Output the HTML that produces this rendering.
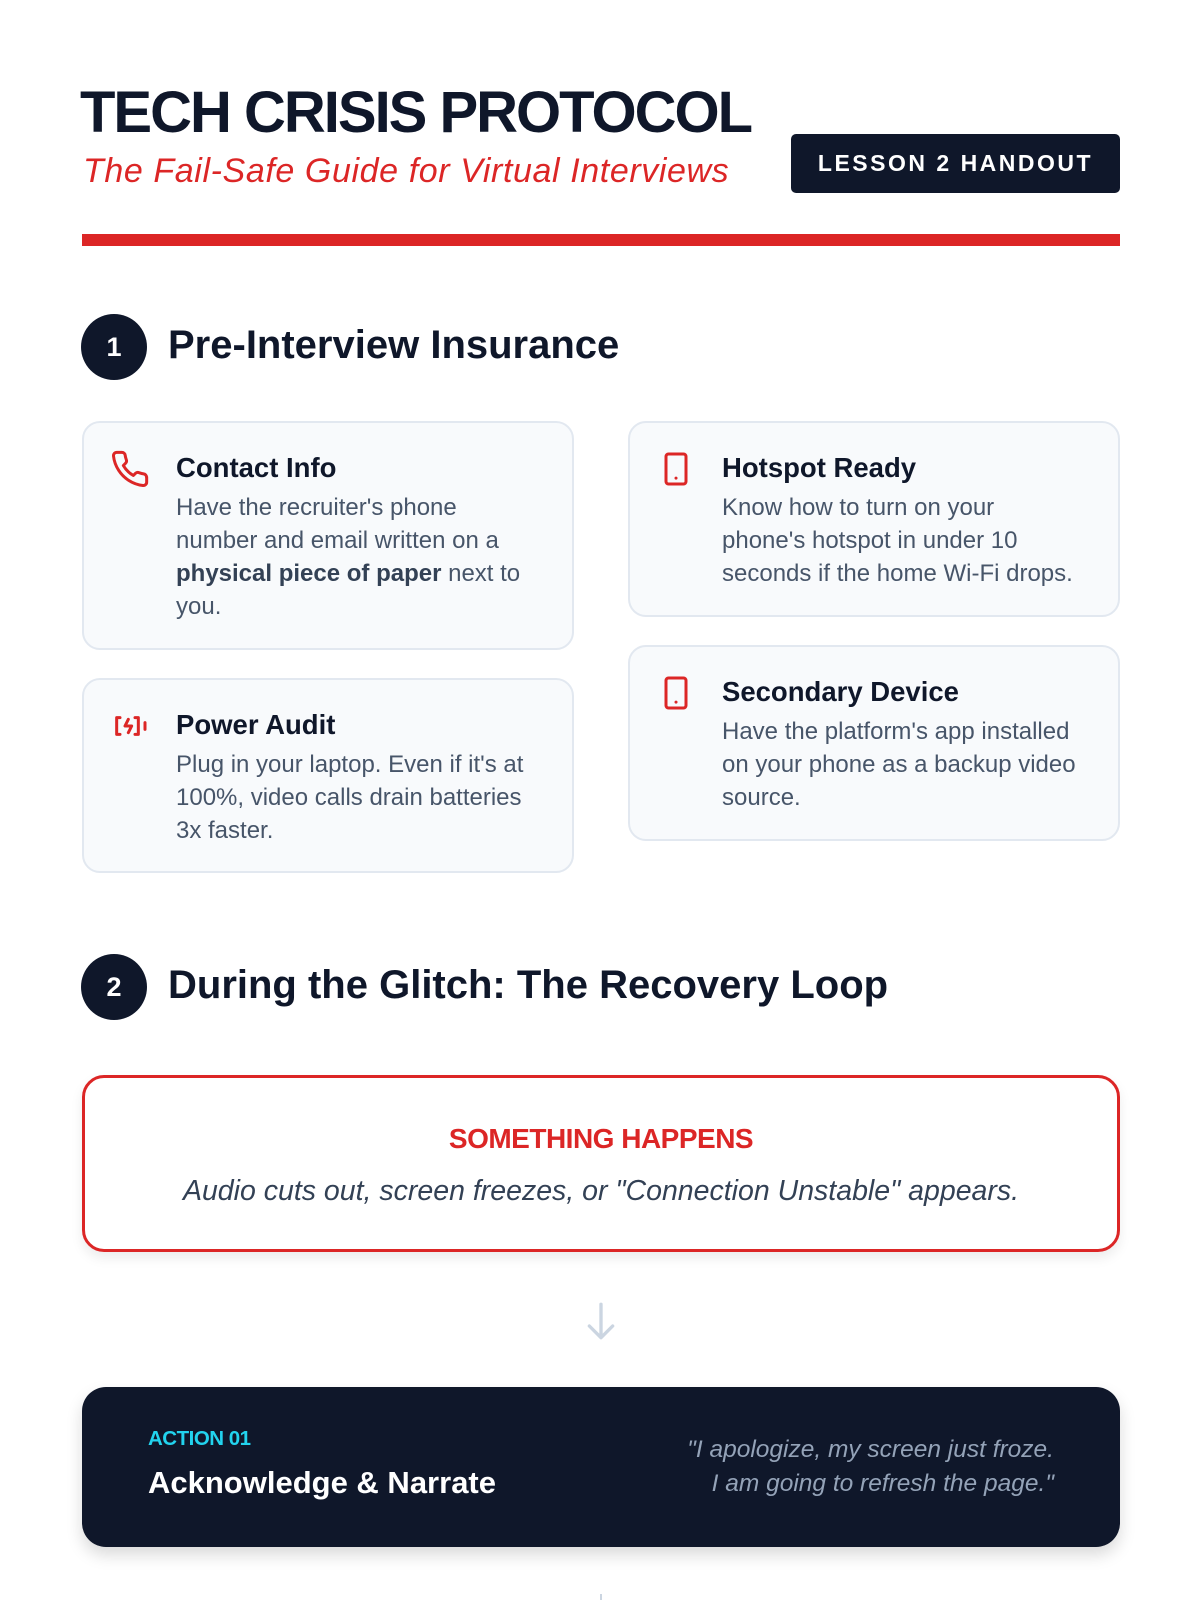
<!DOCTYPE html>
<html style="width:1200px;height:1600px;overflow:hidden"><head><meta charset="utf-8"><style>
*{margin:0;padding:0;box-sizing:border-box}
body{width:1200px;height:1600px;background:#fff;font-family:"Liberation Sans",sans-serif;position:relative;overflow:hidden;color:#0f172a}
.a{position:absolute}
h1{position:absolute;left:80px;top:80px;font-size:58px;font-weight:bold;letter-spacing:-2px;color:#0f172a;line-height:66px;white-space:nowrap}
.sub{left:83px;top:152px;font-size:34px;font-style:italic;color:#dc2626;white-space:nowrap;letter-spacing:0.6px}
.badge{left:791px;top:134px;width:329px;height:59px;background:#0f172a;border-radius:5px;color:#fff;font-weight:bold;font-size:23px;letter-spacing:2.5px;text-align:center;line-height:59px}
.bar{left:82px;top:234px;width:1038px;height:12px;background:#dc2626}
.num{width:66px;height:66px;border-radius:50%;background:#0f172a;color:#fff;font-weight:bold;font-size:27px;text-align:center;line-height:66px;left:81px}
.h2{left:168px;font-size:40px;font-weight:bold;color:#0f172a;white-space:nowrap}
.card{background:#f8fafc;border:2px solid #e2e8f0;border-radius:18px;width:492px}
.card .t{position:absolute;left:92px;top:29px;font-size:27.5px;font-weight:bold;color:#0f172a;white-space:nowrap}
.card .b{position:absolute;left:92px;top:68px;font-size:24px;line-height:33px;color:#475569;white-space:nowrap}
.card svg{position:absolute;left:26px;top:26px}
.red{left:82px;top:1075px;width:1038px;height:177px;border:3px solid #dc2626;border-radius:22px;box-shadow:0 6px 12px rgba(0,0,0,.08);text-align:center}
.dark{left:82px;top:1387px;width:1038px;height:160px;background:#0f172a;border-radius:24px;box-shadow:0 8px 16px rgba(0,0,0,.15)}
</style></head><body>
<h1>TECH CRISIS PROTOCOL</h1>
<div class="a sub">The Fail-Safe Guide for Virtual Interviews</div>
<div class="a badge">LESSON 2 HANDOUT</div>
<div class="a bar"></div>

<div class="a num" style="top:314px">1</div>
<div class="a h2" style="top:323px">Pre-Interview Insurance</div>

<div class="a card" style="left:82px;top:421px;height:229px">
<svg width="40" height="40" viewBox="0 0 24 24" fill="none" stroke="#dc2626" stroke-width="1.8" stroke-linecap="round" stroke-linejoin="round"><path d="M22 16.9v3a2 2 0 0 1-2.2 2 19.8 19.8 0 0 1-8.6-3.1 19.5 19.5 0 0 1-6-6A19.8 19.8 0 0 1 2.1 4.2 2 2 0 0 1 4.1 2h3a2 2 0 0 1 2 1.7c.1 1 .4 1.9.7 2.8a2 2 0 0 1-.5 2.1L8 9.9a16 16 0 0 0 6 6l1.3-1.3a2 2 0 0 1 2.1-.4c.9.3 1.8.6 2.8.7a2 2 0 0 1 1.7 2z"/></svg>
<div class="t">Contact Info</div>
<div class="b">Have the recruiter's phone<br>number and email written on a<br><b style="color:#334155">physical piece of paper</b> next to<br>you.</div>
</div>
<div class="a card" style="left:82px;top:678px;height:195px">
<svg width="40" height="40" viewBox="0 0 24 24" fill="none" stroke="#dc2626" stroke-width="1.8" stroke-linecap="round" stroke-linejoin="round"><path d="M6 7H4v10h2M15 7h2v10h-2M21 10v4M11 8l-2 4h4l-2 4"/></svg>
<div class="t">Power Audit</div>
<div class="b">Plug in your laptop. Even if it's at<br>100%, video calls drain batteries<br>3x faster.</div>
</div>
<div class="a card" style="left:628px;top:421px;height:196px">
<svg width="40" height="40" viewBox="0 0 24 24" fill="none" stroke="#dc2626" stroke-width="1.8" stroke-linecap="round" stroke-linejoin="round"><rect x="6" y="3" width="12" height="18" rx="1.5"/><path d="M12 17.5h.01"/></svg>
<div class="t">Hotspot Ready</div>
<div class="b">Know how to turn on your<br>phone's hotspot in under 10<br>seconds if the home Wi-Fi drops.</div>
</div>
<div class="a card" style="left:628px;top:645px;height:196px">
<svg width="40" height="40" viewBox="0 0 24 24" fill="none" stroke="#dc2626" stroke-width="1.8" stroke-linecap="round" stroke-linejoin="round"><rect x="6" y="3" width="12" height="18" rx="1.5"/><path d="M12 17.5h.01"/></svg>
<div class="t">Secondary Device</div>
<div class="b">Have the platform's app installed<br>on your phone as a backup video<br>source.</div>
</div>

<div class="a num" style="top:954px">2</div>
<div class="a h2" style="top:963px">During the Glitch: The Recovery Loop</div>

<div class="a red">
<div style="margin-top:45px;font-size:28px;font-weight:bold;color:#dc2626;letter-spacing:-0.5px">SOMETHING HAPPENS</div>
<div style="margin-top:20px;font-size:28.5px;font-style:italic;color:#334155">Audio cuts out, screen freezes, or "Connection Unstable" appears.</div>
</div>

<svg class="a" style="left:581px;top:1301px" width="40" height="40" viewBox="0 0 24 24" fill="none" stroke="#cbd5e1" stroke-width="2" stroke-linecap="round" stroke-linejoin="round"><path d="M12 2v20M5 15l7 7 7-7"/></svg>

<div class="a dark">
<div class="a" style="left:66px;top:40px;font-size:20.5px;font-weight:bold;color:#22d3ee;letter-spacing:-0.5px">ACTION 01</div>
<div class="a" style="left:66px;top:78px;font-size:31px;font-weight:bold;color:#fff">Acknowledge &amp; Narrate</div>
<div class="a" style="right:66px;top:46px;font-size:24.5px;font-style:italic;color:#94a3b8;text-align:right;line-height:34px;white-space:nowrap">"I apologize, my screen just froze.<br>I am going to refresh the page."</div>
</div>

<div class="a" style="left:600px;top:1594px;width:2px;height:6px;background:#cbd5e1"></div>
</body></html>
